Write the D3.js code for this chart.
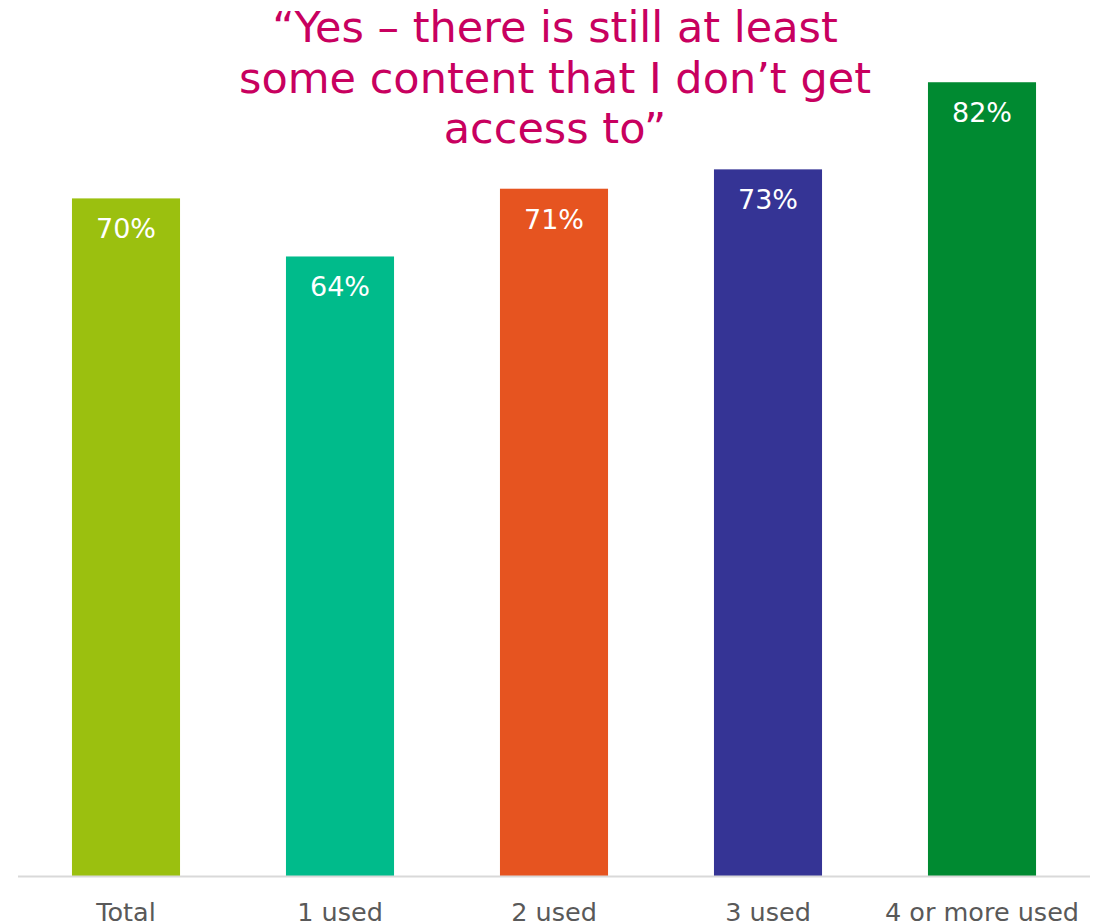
<!DOCTYPE html>
<html>
<head>
<meta charset="utf-8">
<script src="https://cdn.jsdelivr.net/npm/d3@7"></script>
<style>
  html, body { margin: 0; padding: 0; background: #ffffff; }
  svg { display: block; font-family: "DejaVu Sans", Verdana, sans-serif; }
</style>
</head>
<body>
<svg id="chart" width="1094" height="924"></svg>
<script>
// Share of respondents saying some content is still out of reach, by number of services used
const categories = ["Total", "1 used", "2 used", "3 used", "4 or more used"];
const values = [70, 64, 71, 73, 82];
const barColors = ["#9bc00f", "#00bb8b", "#e65420", "#353495", "#008a31"];
const titleLines = ["\u201cYes \u2013 there is still at least", "some content that I don\u2019t get", "access to\u201d"];

const width = 1094, height = 924;
const baseline = 876;

const svg = d3.select("#chart");

const x = d3.scaleBand()
  .domain(categories)
  .range([19, 1089])
  .paddingInner(0.495)
  .paddingOuter(0.2475);

const y = d3.scaleLinear()
  .domain([0, 90])
  .range([baseline, baseline - 90 * 9.68]);

// Bars
svg.append("g")
  .selectAll("rect")
  .data(values)
  .join("rect")
  .attr("x", (d, i) => x(categories[i]))
  .attr("y", d => y(d))
  .attr("width", x.bandwidth())
  .attr("height", d => y(0) - y(d))
  .attr("fill", (d, i) => barColors[i]);

// Value labels inside the top of each bar
svg.append("g")
  .selectAll("text")
  .data(values)
  .join("text")
  .attr("x", (d, i) => x(categories[i]) + x.bandwidth() / 2)
  .attr("y", d => y(d) + 40)
  .attr("text-anchor", "middle")
  .attr("fill", "#ffffff")
  .attr("font-size", 27)
  .text(d => d + "%");

// Category axis
const axis = svg.append("g")
  .attr("transform", `translate(0,${baseline})`)
  .call(d3.axisBottom(x).tickSize(0));
axis.select(".domain").remove();
axis.append("line")
  .attr("x1", 18).attr("x2", 1090)
  .attr("y1", 0.5).attr("y2", 0.5)
  .attr("stroke", "#d9d9d9")
  .attr("stroke-width", 2);
axis.selectAll(".tick text")
  .attr("font-family", "DejaVu Sans, Verdana, sans-serif")
  .attr("font-size", 25.5)
  .attr("fill", "#595959")
  .attr("y", 45)
  .attr("dy", null);

// Title
svg.append("g")
  .selectAll("text")
  .data(titleLines)
  .join("text")
  .attr("x", 555)
  .attr("y", (d, i) => 42 + i * 50.5)
  .attr("text-anchor", "middle")
  .attr("fill", "#c8005f")
  .attr("font-size", 43)
  .text(d => d);
</script>
</body>
</html>
